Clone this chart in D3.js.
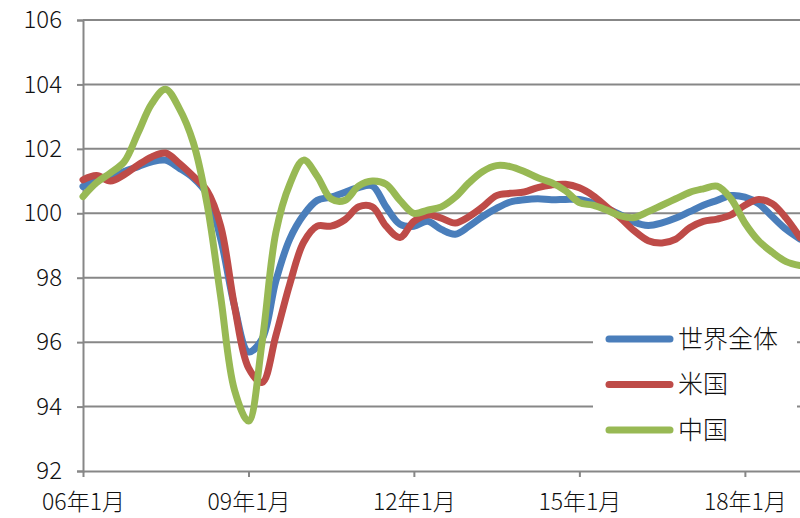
<!DOCTYPE html>
<html>
<head>
<meta charset="utf-8">
<script src="https://cdn.jsdelivr.net/npm/d3@7"></script>
<style>
  body { margin: 0; background: #fff; }
  text { font-family: "Noto Sans CJK JP", "Noto Sans", sans-serif; fill: #111; font-weight: 300; }
</style>
</head>
<body>
<div id="chart"></div>
<script>
// quarterly points, 06年1月 .. 19年1月
const dates = [
  "2006-01","2006-04","2006-07","2006-10","2007-01","2007-04","2007-07","2007-10",
  "2008-01","2008-04","2008-07","2008-10","2009-01","2009-04","2009-07","2009-10",
  "2010-01","2010-04","2010-07","2010-10","2011-01","2011-04","2011-07","2011-10",
  "2012-01","2012-04","2012-07","2012-10","2013-01","2013-04","2013-07","2013-10",
  "2014-01","2014-04","2014-07","2014-10","2015-01","2015-04","2015-07","2015-10",
  "2016-01","2016-04","2016-07","2016-10","2017-01","2017-04","2017-07","2017-10",
  "2018-01","2018-04","2018-07","2018-10","2019-01"
];
const seriesNames = ["世界全体", "米国", "中国"];
const world = [
  100.83,101.05,101.10,101.30,101.45,101.60,101.65,101.40,
  101.10,100.60,99.20,97.10,95.70,96.10,97.90,99.20,
  99.95,100.40,100.50,100.65,100.80,100.85,100.20,99.66,
  99.60,99.75,99.50,99.35,99.60,99.90,100.15,100.35,
  100.42,100.45,100.42,100.43,100.43,100.32,100.15,99.95,
  99.72,99.62,99.70,99.85,100.05,100.25,100.40,100.55,
  100.50,100.30,99.90,99.50,99.20
];
const usa = [
  101.04,101.17,101.00,101.20,101.50,101.75,101.87,101.55,
  101.15,100.70,99.60,97.10,95.20,94.75,96.20,97.80,
  99.10,99.60,99.60,99.80,100.20,100.20,99.60,99.25,
  99.75,99.95,99.85,99.70,99.90,100.20,100.55,100.62,
  100.66,100.80,100.88,100.90,100.79,100.55,100.20,99.85,
  99.45,99.15,99.08,99.20,99.55,99.75,99.82,99.95,
  100.25,100.43,100.30,99.85,99.25
];
const china = [
  100.52,100.95,101.25,101.60,102.50,103.40,103.85,103.25,
  102.20,100.30,97.40,94.50,93.55,96.00,99.40,100.90,
  101.65,101.15,100.45,100.40,100.85,101.00,100.90,100.40,
  100.00,100.10,100.20,100.50,100.95,101.30,101.48,101.45,
  101.30,101.10,100.95,100.70,100.33,100.25,100.10,99.92,
  99.87,100.05,100.25,100.45,100.65,100.76,100.84,100.45,
  99.70,99.15,98.79,98.50,98.38
];
const colors = ["#4a7ebb", "#be4b48", "#98b954"];
const yTicks = [92, 94, 96, 98, 100, 102, 104, 106];
const xTickDates = ["2006-01","2009-01","2012-01","2015-01","2018-01"];
const xTickLabels = ["06年1月","09年1月","12年1月","15年1月","18年1月"];

const width = 800, height = 518;
const parse = d3.timeParse("%Y-%m");

const svg = d3.select("#chart").append("svg")
  .attr("width", width)
  .attr("height", height);

const x = d3.scaleTime()
  .domain([parse("2006-01"), parse("2019-01")])
  .range([83, 800]);

const y = d3.scaleLinear()
  .domain([92, 106])
  .range([471, 20]);

// horizontal grid
svg.append("g")
  .selectAll("line")
  .data(yTicks.filter(d => d !== 92))
  .enter()
  .append("line")
  .attr("x1", 83).attr("x2", 800)
  .attr("y1", d => y(d)).attr("y2", d => y(d))
  .attr("stroke", "#878787")
  .attr("stroke-width", 2);

// y axis
const yAxis = svg.append("g")
  .attr("transform", "translate(83,0)")
  .call(d3.axisLeft(y).tickValues(yTicks).tickSize(6).tickPadding(15));
yAxis.select(".domain").attr("stroke", "#878787").attr("stroke-width", 2);
yAxis.selectAll(".tick line").attr("stroke", "#878787").attr("stroke-width", 2);
yAxis.selectAll("text").attr("font-size", 24).attr("font-family", null);

// x axis
const xAxis = svg.append("g")
  .attr("transform", "translate(0,471)")
  .call(d3.axisBottom(x)
    .tickValues(xTickDates.map(parse))
    .tickFormat((d, i) => xTickLabels[i])
    .tickSize(6).tickSizeOuter(0).tickPadding(17));
xAxis.select(".domain").attr("stroke", "#878787").attr("stroke-width", 2);
xAxis.selectAll(".tick line").attr("stroke", "#878787").attr("stroke-width", 2);
xAxis.selectAll("text").attr("font-size", 23).attr("font-family", null);

// lines
const line = d3.line()
  .x((d, i) => x(parse(dates[i])))
  .y(d => y(d))
  .curve(d3.curveCatmullRom.alpha(0.5));

const allSeries = [world, usa, china];
svg.append("g")
  .selectAll("path")
  .data(allSeries)
  .enter()
  .append("path")
  .attr("d", d => line(d))
  .attr("fill", "none")
  .attr("stroke", (d, i) => colors[i])
  .attr("stroke-width", 7)
  .attr("stroke-linejoin", "round")
  .attr("stroke-linecap", "round");

// legend
const legend = svg.append("g");
legend.append("rect")
  .attr("x", 593).attr("y", 318)
  .attr("width", 204).attr("height", 136)
  .attr("fill", "#fff");
const item = legend.selectAll(".item")
  .data(seriesNames)
  .enter()
  .append("g")
  .attr("transform", (d, i) => `translate(0,${339 + i * 45.5})`);
item.append("line")
  .attr("x1", 609).attr("x2", 670)
  .attr("stroke", (d, i) => colors[i])
  .attr("stroke-width", 7)
  .attr("stroke-linecap", "round");
item.append("text")
  .attr("x", 678).attr("dy", "0.35em")
  .attr("font-size", 25)
  .text(d => d);
</script>
</body>
</html>
